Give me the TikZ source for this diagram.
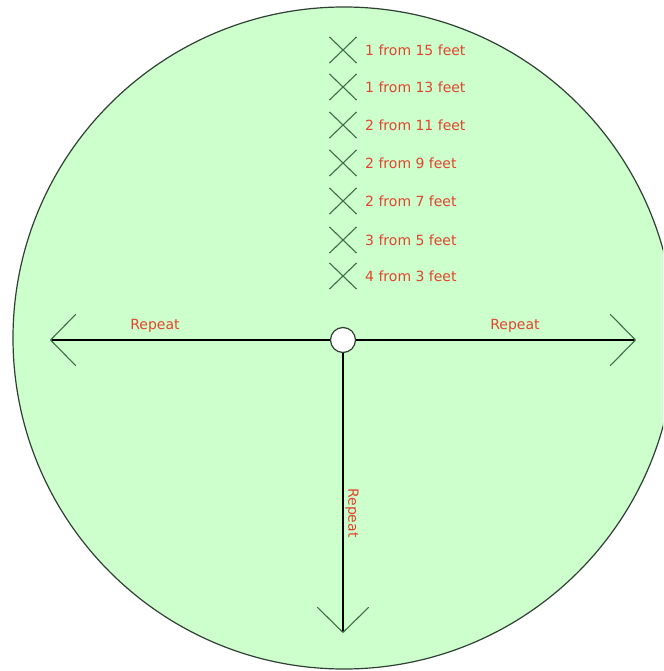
\documentclass[tikz,border=0pt]{standalone}
\usepackage{fontspec}
\setmainfont{DejaVu Sans}
\usetikzlibrary{arrows.meta,shapes.misc}
\definecolor{lawn}  {HTML}{CCFFCC}
\definecolor{pinred}{HTML}{E0452F}
\definecolor{mark}  {HTML}{3C6E47}
\definecolor{edge}  {HTML}{2F3F33}

\tikzset{
  lbl/.style={font=\fontsize{14}{16}\selectfont, color=pinred},
  spot/.style={cross out, draw=mark, line width=1.1pt, minimum width=26pt,
               minimum height=25pt, inner sep=0pt},
  ray/.style={draw=black, line width=1.1pt,
              -{Straight Barb[length=25pt,width=51pt,line width=1.1pt,color=mark,round]}}
}

\begin{document}
\begin{tikzpicture}[x=1pt,y=-1pt]
  \useasboundingbox (0,0) rectangle (663,671);
  \clip (0,0) rectangle (663,671);
  % the field
  \draw[edge, fill=lawn, line width=1.2pt] (344,338) circle (331);
  % distances
  \foreach \i/\yy/\txt in {1/50/1 from 15 feet, 2/87/1 from 13 feet,
                           3/125/2 from 11 feet, 4/163/2 from 9 feet,
                           5/201/2 from 7 feet, 6/240/3 from 5 feet,
                           7/276/4 from 3 feet}{
    \node[spot] (x\i) at (343,\yy) {};
    \node[lbl, anchor=west, inner xsep=0pt] (t\i) at (365,\yy) {\txt};
  }
  % hole and the three directions
  \node[circle, draw=edge, fill=white, line width=1.2pt, minimum size=25pt,
        inner sep=0pt] (hub) at (343,340) {};
  \coordinate (leftend)  at (50,340);
  \coordinate (rightend) at (636,340);
  \coordinate (downend)  at (343,633);
  \draw[ray] (hub) -- (leftend);
  \draw[ray] (hub) -- (rightend);
  \draw[ray] (hub) -- (downend);
  \node[lbl] (rl) at (155,326) {Repeat};
  \node[lbl] (rr) at (515,326) {Repeat};
  \node[lbl, rotate=-90] (rd) at (352,513) {Repeat};
\end{tikzpicture}
\end{document}
